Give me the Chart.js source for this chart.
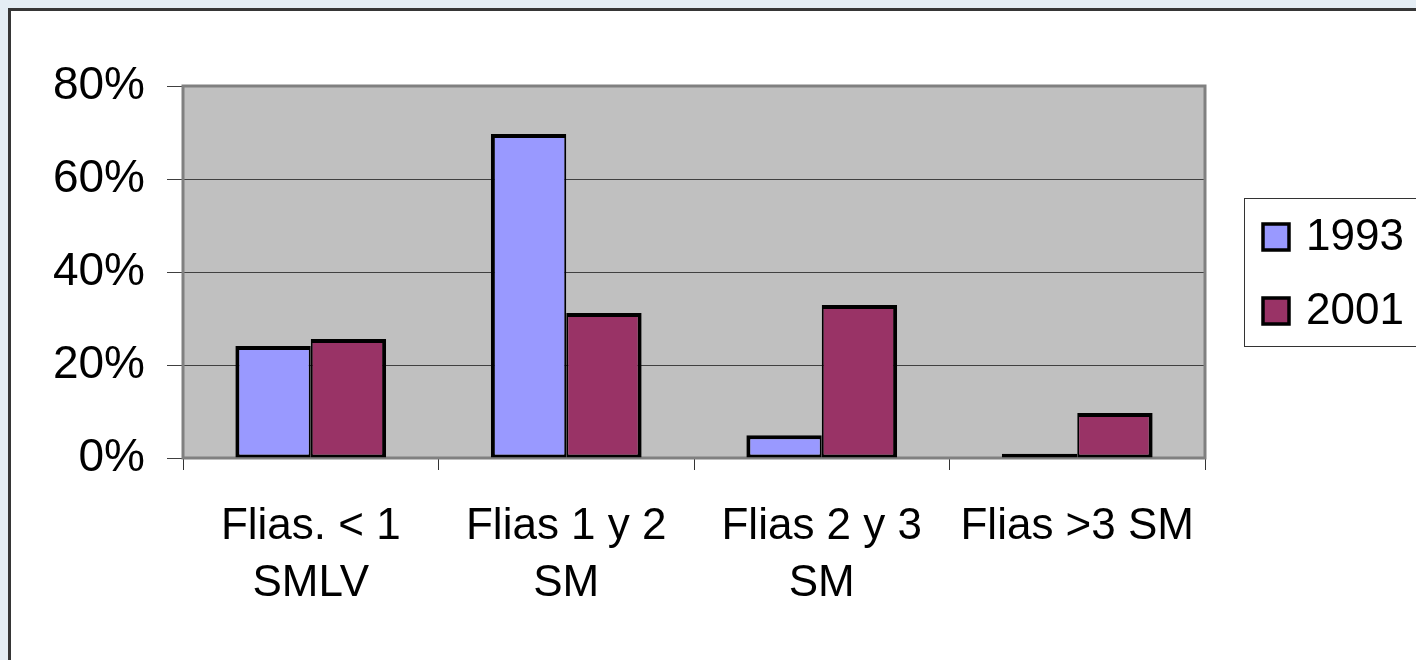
<!DOCTYPE html>
<html>
<head>
<meta charset="utf-8">
<script src="https://cdn.jsdelivr.net/npm/chart.js@4.4.0/dist/chart.umd.min.js"></script>
<style>
  html, body { margin: 0; padding: 0; background: #e4edf4; overflow: hidden; }
  #frame { position: absolute; left: 8px; top: 8px; width: 1420px; height: 660px; background: #fff;
           border-top: 3px solid #363636; border-left: 3px solid #363636; }
  #chart1 { position: absolute; left: 0; top: 0; }
</style>
</head>
<body>
<div id="frame"></div>
<canvas id="chart1" width="1416" height="660"></canvas>
<script>
"use strict";
var categories = [["Flias. < 1", "SMLV"], ["Flias 1 y 2", "SM"], ["Flias 2 y 3", "SM"], ["Flias >3 SM"]];
var values1993 = [24.1, 69.7, 4.9, 0.9];
var values2001 = [25.6, 31.2, 32.9, 9.7];
var yTicks = [0, 20, 40, 60, 80];

var FONT = "'Liberation Sans', Arial, sans-serif";

// gray plot background + frame
var plotArea = {
  id: "plotArea",
  beforeDraw: function(chart) {
    var a = chart.chartArea, ctx = chart.ctx;
    ctx.save();
    ctx.fillStyle = "#c0c0c0";
    ctx.fillRect(a.left, a.top, a.right - a.left, a.bottom - a.top);
    ctx.restore();
  },
  beforeDatasetsDraw: function(chart) {
    var a = chart.chartArea, ctx = chart.ctx;
    ctx.save();
    ctx.strokeStyle = "#808080";
    ctx.lineWidth = 3;
    ctx.strokeRect(a.left, a.top, a.right - a.left, a.bottom - a.top);
    ctx.restore();
  }
};

// boxed legend on the right (runs off the edge like the original)
var boxLegend = {
  id: "boxLegend",
  afterDraw: function(chart) {
    var ctx = chart.ctx;
    ctx.save();
    ctx.fillStyle = "#fff";
    ctx.fillRect(1244, 198, 200, 148);
    ctx.strokeStyle = "#333";
    ctx.lineWidth = 1;
    ctx.strokeRect(1244.5, 198.5, 200, 148);
    var rows = [223, 297];
    chart.data.datasets.forEach(function(ds, i) {
      ctx.fillStyle = ds.backgroundColor;
      ctx.fillRect(1263, rows[i] + 1, 26, 26);
      ctx.strokeStyle = "#000";
      ctx.lineWidth = 3.5;
      ctx.strokeRect(1263, rows[i] + 1, 26, 26);
      ctx.fillStyle = "#000";
      ctx.font = "44px " + FONT;
      ctx.textBaseline = "middle";
      ctx.fillText(ds.label, 1306, rows[i] + 15);
    });
    ctx.restore();
  }
};

new Chart(document.getElementById("chart1"), {
  type: "bar",
  data: {
    labels: categories,
    datasets: [
      { label: "1993", data: values1993, backgroundColor: "#9999ff", borderColor: "#000",
        borderSkipped: false, borderWidth: { left: 4, top: 4, right: 2, bottom: 3 } },
      { label: "2001", data: values2001, backgroundColor: "#993366", borderColor: "#000",
        borderSkipped: false, borderWidth: { left: 2, top: 4, right: 4, bottom: 3 } }
    ]
  },
  options: {
    responsive: false,
    devicePixelRatio: 1,
    animation: false,
    layout: { padding: { left: 0, top: 86, right: 211, bottom: 0 } },
    datasets: { bar: { categoryPercentage: 0.59, barPercentage: 1.0 } },
    plugins: { legend: { display: false }, tooltip: { enabled: false } },
    scales: {
      x: {
        afterFit: function(s) { s.height = 202; },
        grid: { offset: true, drawOnChartArea: false, drawTicks: true, tickLength: 12, color: "#333", lineWidth: 1 },
        border: { display: false },
        ticks: {
          autoSkip: false, maxRotation: 0, color: "#000", padding: 28,
          font: { family: FONT, size: 44, lineHeight: 1.3 }
        }
      },
      y: {
        min: 0,
        max: 80,
        afterFit: function(s) { s.width = 183; },
        afterBuildTicks: function(s) { s.ticks = yTicks.map(function(v) { return { value: v }; }); },
        grid: { color: "#404040", lineWidth: 1, tickLength: 16 },
        border: { display: false },
        ticks: {
          color: "#000", padding: 22,
          font: { family: FONT, size: 46 },
          callback: function(v) { return v + "%"; }
        }
      }
    }
  },
  plugins: [plotArea, boxLegend]
});
</script>
</body>
</html>
